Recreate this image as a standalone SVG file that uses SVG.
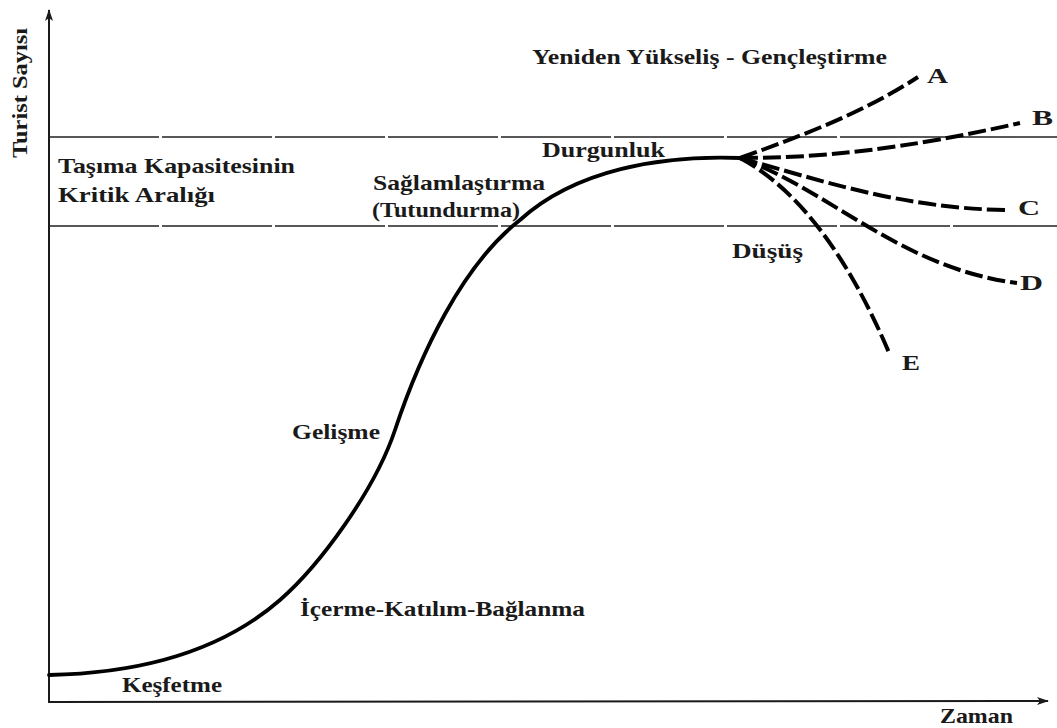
<svg xmlns="http://www.w3.org/2000/svg" width="1057" height="728" viewBox="0 0 1057 728">
<style>
.lbl{font-family:"Liberation Serif","Times New Roman",serif;font-weight:bold;font-size:21px;fill:#1a1a1a}
.ltr{font-family:"Liberation Serif","Times New Roman",serif;font-weight:bold;font-size:20px;fill:#1a1a1a}
.axis{stroke:#1a1a1a;stroke-width:2;fill:none}
.range{stroke:#222;stroke-width:1.6;fill:none;stroke-dasharray:110 3}
.main{stroke:#000;stroke-width:3.8;fill:none;stroke-linecap:round}
.branch{stroke:#000;stroke-width:4;fill:none;stroke-dasharray:18 5}
</style>
<defs>
<marker id="arr" markerWidth="12" markerHeight="8" refX="11" refY="4" orient="auto" markerUnits="userSpaceOnUse">
<path d="M0,0 L12,4 L0,8 L3,4 Z" fill="#1a1a1a"/>
</marker>
</defs>
<rect width="1057" height="728" fill="#fff"/>
<g id="axes">
<line class="axis" x1="49" y1="702" x2="49" y2="10" marker-end="url(#arr)"/>
<line class="axis" x1="48" y1="702" x2="1048" y2="701" marker-end="url(#arr)"/>
</g>
<g id="critical-range">
<line class="range" x1="49" y1="137" x2="1057" y2="137"/>
<line class="range" x1="49" y1="226" x2="1057" y2="226"/>
</g>
<g id="connectors">
<path class="main" d="M49,675 C150,673 225,648 280,600 C320,565 375,490 395,430 C420,355 462,265 520,220 C575,170 660,155 740,158"/>
<path class="branch" d="M740,158 C790,140 860,115 918,77"/>
<path class="branch" d="M740,158 C820,158 900,150 1020,123"/>
<path class="branch" d="M740,158 C820,180 900,208 1005,210"/>
<path class="branch" d="M740,158 C830,190 900,268 1017,283"/>
<path class="branch" d="M740,158 C800,190 850,260 890,355"/>
</g>
<g id="y-label"><text class="lbl" font-size="19" transform="translate(27,158) rotate(-90)" textLength="130" lengthAdjust="spacingAndGlyphs">Turist Sayısı</text></g>
<g id="x-label"><text class="lbl" x="940" y="723" textLength="73" lengthAdjust="spacingAndGlyphs">Zaman</text></g>
<g id="rejuvenation"><text class="lbl" x="532" y="64" textLength="355" lengthAdjust="spacingAndGlyphs">Yeniden Yükseliş - Gençleştirme</text></g>
<g id="capacity"><text class="lbl" x="58" y="173" textLength="237" lengthAdjust="spacingAndGlyphs">Taşıma Kapasitesinin</text><text class="lbl" x="58" y="202" textLength="157" lengthAdjust="spacingAndGlyphs">Kritik Aralığı</text></g>
<g id="consolidation"><text class="lbl" x="373" y="190" textLength="172" lengthAdjust="spacingAndGlyphs">Sağlamlaştırma</text><text class="lbl" x="372" y="217" textLength="148" lengthAdjust="spacingAndGlyphs">(Tutundurma)</text></g>
<g id="stagnation"><text class="lbl" x="542" y="157" textLength="123" lengthAdjust="spacingAndGlyphs">Durgunluk</text></g>
<g id="decline"><text class="lbl" x="732" y="258" textLength="71" lengthAdjust="spacingAndGlyphs">Düşüş</text></g>
<g id="development"><text class="lbl" x="292" y="439" textLength="88" lengthAdjust="spacingAndGlyphs">Gelişme</text></g>
<g id="involvement"><text class="lbl" x="300" y="616" textLength="285" lengthAdjust="spacingAndGlyphs">İçerme-Katılım-Bağlanma</text></g>
<g id="exploration"><text class="lbl" x="122" y="692" textLength="100" lengthAdjust="spacingAndGlyphs">Keşfetme</text></g>
<g id="A"><text class="ltr" x="927" y="83" textLength="21" lengthAdjust="spacingAndGlyphs">A</text></g>
<g id="B"><text class="ltr" x="1032" y="125" textLength="21" lengthAdjust="spacingAndGlyphs">B</text></g>
<g id="C"><text class="ltr" x="1018" y="215" textLength="22" lengthAdjust="spacingAndGlyphs">C</text></g>
<g id="D"><text class="ltr" x="1020" y="290" textLength="23" lengthAdjust="spacingAndGlyphs">D</text></g>
<g id="E"><text class="ltr" x="902" y="370" textLength="18" lengthAdjust="spacingAndGlyphs">E</text></g>
</svg>
